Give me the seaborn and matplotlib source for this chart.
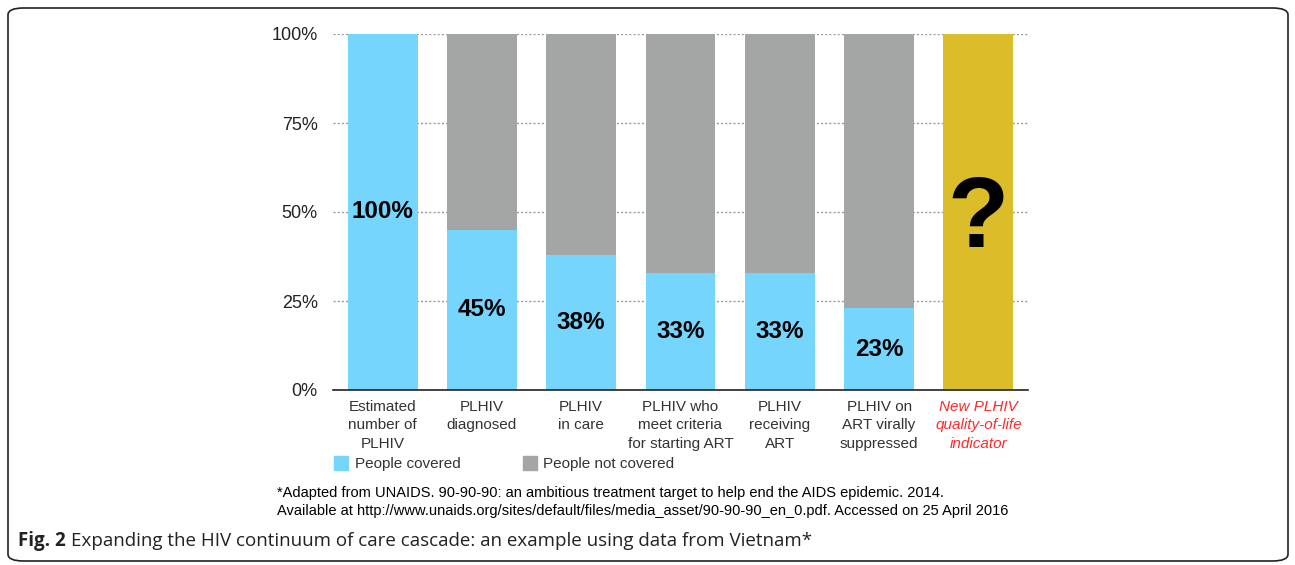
import matplotlib
matplotlib.use("Agg")
import matplotlib.pyplot as plt
from matplotlib.patches import FancyBboxPatch
from matplotlib.lines import Line2D
import seaborn as sns
import pandas as pd
import numpy as np

# data
stages = ["Estimated\nnumber of\nPLHIV", "PLHIV\ndiagnosed", "PLHIV\nin care",
          "PLHIV who\nmeet criteria\nfor starting ART", "PLHIV\nreceiving\nART",
          "PLHIV on\nART virally\nsuppressed", "New PLHIV\nquality-of-life\nindicator"]
covered = [100, 45, 38, 33, 33, 23, 0]
total = [100, 100, 100, 100, 100, 100, 100]
yticks = [0, 25, 50, 75, 100]
ytick_labels = ["0%", "25%", "50%", "75%", "100%"]

blue = "#76D5FD"
grey = "#A4A6A5"
gold = "#DBBC29"
red = "#FF2A2A"

sns.set_style("white")
plt.rcParams["font.family"] = ["Liberation Sans", "DejaVu Sans"]

df = pd.DataFrame({"stage": stages, "covered": covered, "total": total})

fig = plt.figure(figsize=(12.95, 5.65), dpi=100)
ax = fig.add_axes([333 / 1295, 1 - 390 / 565, 695 / 1295, 356 / 565])

bar_colors = [grey] * 6 + [gold]
sns.barplot(data=df, x="stage", y="total", hue="stage", palette=bar_colors,
            legend=False, width=0.705, ax=ax, zorder=2, saturation=1, linewidth=0)
sns.barplot(data=df, x="stage", y="covered", color=blue, width=0.705, ax=ax,
            zorder=3, saturation=1, linewidth=0)

ax.set_xlim(-0.5, 6.5)
ax.set_ylim(0, 100)
ax.set_yticks(yticks)
ax.set_yticklabels(ytick_labels, fontsize=13, color="#222222")
ax.yaxis.grid(True, linestyle=(0, (1.5, 1.5)), color="#999999", linewidth=1, zorder=0)
ax.set_axisbelow(True)
ax.tick_params(axis="y", length=0, pad=11)
ax.tick_params(axis="x", length=0, pad=7)
ax.set_xlabel("")
ax.set_ylabel("")
for s in ["left", "right", "top"]:
    ax.spines[s].set_visible(False)
ax.spines["bottom"].set_color("#222222")
ax.spines["bottom"].set_linewidth(1.2)
ax.spines["bottom"].set_zorder(5)

ax.set_xticks(range(len(stages)))
ax.set_xticklabels(stages, fontsize=11, color="#333333", linespacing=1.4, va="top")
last = ax.get_xticklabels()[-1]
last.set_color(red)
last.set_style("italic")

for i, v in enumerate(covered[:-1]):
    ax.text(i, v / 2, f"{v}%", ha="center", va="center", fontsize=17.5,
            fontweight="bold", color="black", zorder=6)
ax.text(6, 47.5, "?", ha="center", va="center", fontsize=72, fontweight="bold",
        color="black", zorder=6)

handles = [Line2D([], [], marker="s", linestyle="", markersize=10, color=blue),
           Line2D([], [], marker="s", linestyle="", markersize=10, color=grey)]
fig.legend(handles, ["People covered", "People not covered"], loc="center left",
           bbox_to_anchor=(320 / 1295, 1 - 464 / 565), ncol=2, frameon=False,
           fontsize=11, handlelength=1.0, handletextpad=0.4, columnspacing=4.0,
           labelcolor="#333333")

fig.text(277 / 1295, 1 - 493 / 565,
         "*Adapted from UNAIDS. 90-90-90: an ambitious treatment target to help end the AIDS epidemic. 2014.",
         fontsize=10.55, va="center", ha="left", color="black")
fig.text(277 / 1295, 1 - 511 / 565,
         "Available at http://www.unaids.org/sites/default/files/media_asset/90-90-90_en_0.pdf. Accessed on 25 April 2016",
         fontsize=10.55, va="center", ha="left", color="black")

fig.text(18 / 1295, 1 - 541 / 565, "Fig. 2", fontsize=13.5, fontweight="bold",
         va="center", ha="left", color="#222222", family=["Open Sans", "DejaVu Sans"])
fig.text(71 / 1295, 1 - 541 / 565,
         "Expanding the HIV continuum of care cascade: an example using data from Vietnam*",
         fontsize=13.5, va="center", ha="left", color="#222222",
         family=["Open Sans", "DejaVu Sans"])

border = FancyBboxPatch((8 / 1295, 4 / 565), 1280 / 1295, 553 / 565,
                        boxstyle="round,pad=0,rounding_size=0.012",
                        transform=fig.transFigure, fill=False,
                        edgecolor="#222222", linewidth=1.2)
fig.patches.append(border)

fig.savefig("out.png", dpi=100)
